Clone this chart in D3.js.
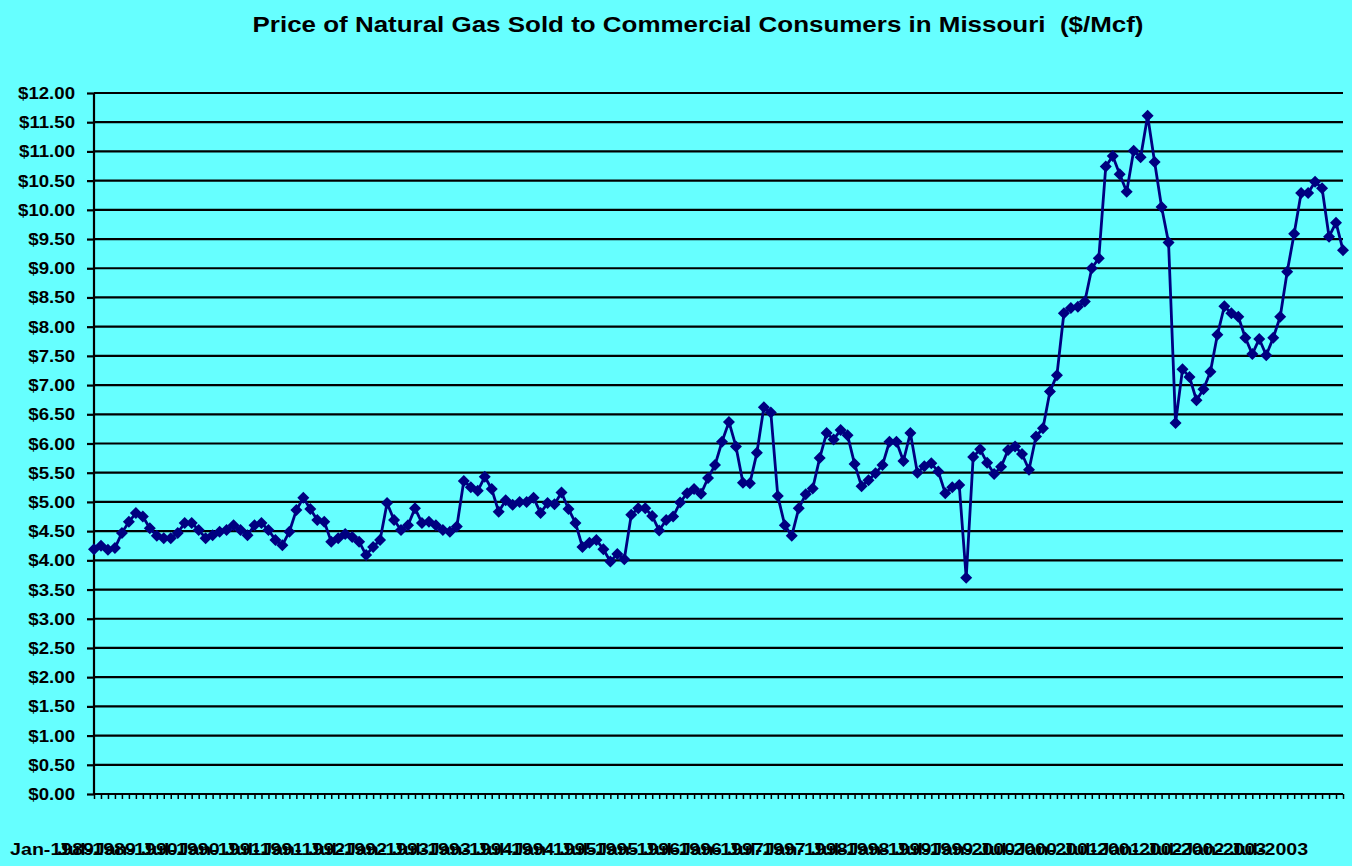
<!DOCTYPE html>
<meta charset="utf-8">
<style>
  body { margin: 0; background: #66ffff; }
  text { font-family: "Liberation Sans", Arial, sans-serif; font-weight: bold; fill: #000; }
</style>
<body>
  <script src="https://cdn.jsdelivr.net/npm/d3@7"></script>
  <script>
    // monthly prices, $/Mcf
    var p1989 = [4.19, 4.25, 4.18, 4.21, 4.47, 4.66, 4.81, 4.75, 4.55, 4.42, 4.38, 4.38],
      p1990 = [4.47, 4.64, 4.64, 4.52, 4.38, 4.43, 4.49, 4.52, 4.60, 4.52, 4.43, 4.60],
      p1991 = [4.64, 4.52, 4.35, 4.26, 4.49, 4.86, 5.07, 4.88, 4.69, 4.66, 4.32, 4.38],
      p1992 = [4.45, 4.40, 4.32, 4.09, 4.23, 4.35, 4.98, 4.69, 4.52, 4.60, 4.89, 4.64],
      p1993 = [4.66, 4.60, 4.52, 4.49, 4.58, 5.36, 5.25, 5.19, 5.43, 5.22, 4.83, 5.03],
      p1994 = [4.95, 5.00, 5.00, 5.07, 4.81, 4.98, 4.96, 5.16, 4.88, 4.64, 4.23, 4.30],
      p1995 = [4.35, 4.19, 3.98, 4.11, 4.02, 4.78, 4.89, 4.89, 4.76, 4.51, 4.69, 4.75],
      p1996 = [4.99, 5.15, 5.22, 5.14, 5.41, 5.63, 6.03, 6.37, 5.95, 5.33, 5.32, 5.84],
      p1997 = [6.62, 6.53, 5.10, 4.60, 4.42, 4.89, 5.13, 5.23, 5.75, 6.18, 6.07, 6.23],
      p1998 = [6.14, 5.65, 5.27, 5.37, 5.49, 5.63, 6.03, 6.03, 5.70, 6.18, 5.50, 5.61],
      p1999 = [5.66, 5.52, 5.15, 5.25, 5.29, 3.70, 5.77, 5.90, 5.67, 5.48, 5.60, 5.89],
      p2000 = [5.95, 5.82, 5.55, 6.12, 6.26, 6.89, 7.17, 8.23, 8.32, 8.34, 8.43, 9.00],
      p2001 = [9.17, 10.74, 10.92, 10.61, 10.31, 11.01, 10.90, 11.61, 10.82, 10.05, 9.44, 6.35],
      p2002 = [7.27, 7.14, 6.74, 6.93, 7.23, 7.86, 8.35, 8.23, 8.17, 7.81, 7.53, 7.79],
      p2003 = [7.51, 7.81, 8.17, 8.94, 9.59, 10.29, 10.29, 10.48, 10.37, 9.54, 9.78, 9.31];

    var prices = [].concat(p1989, p1990, p1991, p1992, p1993, p1994, p1995, p1996,
      p1997, p1998, p1999, p2000, p2001, p2002, p2003);

    // one label every 6 months
    var xLabels = ["Jan-1989", "Jul-1989", "Jan-1990", "Jul-1990", "Jan-1991", "Jul-1991",
      "Jan-1992", "Jul-1992", "Jan-1993", "Jul-1993", "Jan-1994", "Jul-1994",
      "Jan-1995", "Jul-1995", "Jan-1996", "Jul-1996", "Jan-1997", "Jul-1997",
      "Jan-1998", "Jul-1998", "Jan-1999", "Jul-1999", "Jan-2000", "Jul-2000",
      "Jan-2001", "Jul-2001", "Jan-2002", "Jul-2002", "Jan-2003", "Jul-2003"];

    var yTicks = [0, 0.5, 1, 1.5, 2, 2.5, 3, 3.5, 4, 4.5, 5, 5.5, 6, 6.5, 7, 7.5,
      8, 8.5, 9, 9.5, 10, 10.5, 11, 11.5, 12];

    var title = "Price of Natural Gas Sold to Commercial Consumers in Missouri  ($/Mcf)";

    var W = 1352, H = 866;
    var margin = { top: 93, right: 9, bottom: 72, left: 94 },
      width = W - margin.left - margin.right,
      height = H - margin.top - margin.bottom;

    // the source image is stretched sideways, so text is too
    var stretch = 1.18;

    var svg = d3.select("body").append("svg")
      .attr("width", W)
      .attr("height", H);

    svg.append("rect")
      .attr("width", W)
      .attr("height", H)
      .style("fill", "#66ffff");

    var g = svg.append("g")
      .attr("transform", "translate(" + margin.left + "," + margin.top + ")");

    var x = d3.scaleLinear().domain([0, prices.length - 1]).range([0, width]),
      y = d3.scaleLinear().domain([0, 12]).range([height, 0]);

    // title
    svg.append("text")
      .attr("transform", "translate(698,32) scale(" + stretch + ",1)")
      .attr("text-anchor", "middle")
      .style("font-size", "22px")
      .style("white-space", "pre")
      .text(title);

    // gridlines
    g.selectAll(".grid")
      .data(yTicks.slice(1))
      .enter().append("line")
      .attr("class", "grid")
      .attr("x1", 0)
      .attr("x2", width)
      .attr("y1", function(d) { return y(d); })
      .attr("y2", function(d) { return y(d); })
      .style("stroke", "#000")
      .style("stroke-width", 2.2);

    // y axis
    var yAxis = g.append("g")
      .call(d3.axisLeft(y).tickValues(yTicks).tickSize(7).tickFormat(""));
    yAxis.select(".domain").style("stroke-width", 2.2).attr("d", "M0," + height + "V0");
    yAxis.selectAll(".tick line").style("stroke-width", 2.2);

    g.selectAll(".ylab")
      .data(yTicks)
      .enter().append("text")
      .attr("class", "ylab")
      .attr("transform", function(d) {
        return "translate(-19," + (y(d) + 6) + ") scale(" + stretch + ",1)";
      })
      .attr("text-anchor", "end")
      .style("font-size", "15.8px")
      .text(function(d) { return "$" + d.toFixed(2); });

    // x axis, a tick for every month
    var xAxis = g.append("g")
      .attr("transform", "translate(0," + height + ")")
      .call(d3.axisBottom(x).tickValues(d3.range(prices.length)).tickSize(5).tickFormat(""));
    xAxis.select(".domain").style("stroke-width", 2.2).attr("d", "M0,0H" + width);
    xAxis.selectAll(".tick line").style("stroke-width", 1.5);

    g.selectAll(".xlab")
      .data(xLabels)
      .enter().append("text")
      .attr("class", "xlab")
      .attr("transform", function(d, i) {
        return "translate(" + x(i * 6) + "," + (height + 61) + ") scale(1.14,1)";
      })
      .attr("text-anchor", "end")
      .style("font-size", "17.2px")
      .text(function(d) { return d; });

    // price line
    var line = d3.line()
      .x(function(d, i) { return x(i); })
      .y(function(d) { return y(d); });

    g.append("path")
      .datum(prices)
      .attr("d", line)
      .style("fill", "none")
      .style("stroke", "#000080")
      .style("stroke-width", 2.8)
      .style("stroke-linejoin", "round");

    g.selectAll(".point")
      .data(prices)
      .enter().append("path")
      .attr("class", "point")
      .attr("transform", function(d, i) {
        return "translate(" + x(i) + "," + y(d) + ")";
      })
      .attr("d", "M0,-6L6,0L0,6L-6,0Z")
      .style("fill", "#000080");
  </script>
</body>
